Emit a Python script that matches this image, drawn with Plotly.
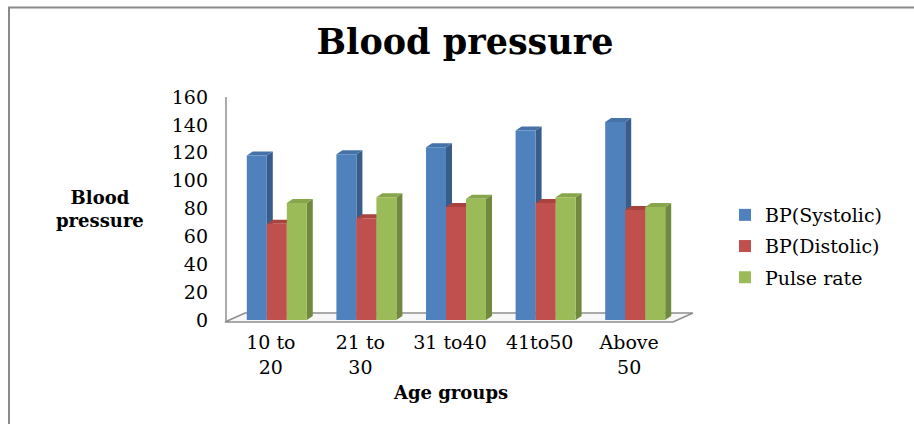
import plotly.graph_objects as go

# Age groups and measured values
age_groups = ["10 to<br>20", "21 to<br>30", "31 to40", "41to50", "Above<br>50"]
series_names = ["BP(Systolic)", "BP(Distolic)", "Pulse rate"]
systolic = [118, 119, 124, 136, 142]
diastolic = [69, 73, 81, 84, 79]
pulse = [84, 88, 87, 88, 81]
y_ticks = [0, 20, 40, 60, 80, 100, 120, 140, 160]

# Front, side and top colours for each series (pseudo-3D columns)
front_colors = ["#4F81BD", "#C0504D", "#9BBB59"]
side_colors = ["#385D8A", "#8C3836", "#71893F"]
top_colors = ["#4672AA", "#A9433F", "#87A64B"]

FONT = "DejaVu Serif"

# Plot area geometry (pixels)
L, W = 232, 448
T, B = 97, 320
H = B - T
FIG_W, FIG_H = 914, 424


def px_x(px):
    return (px - L) / W


def px_y(py):
    return (B - py) / H


cat_px = W / len(age_groups)          # pixels per category
bar_w = 20 / cat_px                    # bar width in category units
depth_dx = 6 / cat_px                  # 3D depth offset (x)
depth_dy = 4 / (H / (y_ticks[-1] - y_ticks[0]))  # 3D depth offset (y units)
offsets = [-bar_w, 0.0, bar_w]
label_shift = -6 / cat_px

fig = go.Figure()
shapes = []

all_series = [systolic, diastolic, pulse]
for k, (name, vals) in enumerate(zip(series_names, all_series)):
    xs = [i + offsets[k] for i in range(len(vals))]
    fig.add_trace(go.Bar(
        x=xs, y=vals, width=bar_w, name=name,
        marker=dict(color=front_colors[k], line=dict(width=0)),
        legendgroup=name, showlegend=True,
    ))
    for xc, v in zip(xs, vals):
        xl, xr = xc - bar_w / 2, xc + bar_w / 2
        # right side face
        shapes.append(dict(
            type="path", xref="x", yref="y", layer="below",
            path=f"M{xr},0 L{xr},{v} L{xr + depth_dx},{v + depth_dy} L{xr + depth_dx},{depth_dy} Z",
            fillcolor=side_colors[k], line=dict(width=0),
        ))
        # top face
        shapes.append(dict(
            type="path", xref="x", yref="y", layer="below",
            path=f"M{xl},{v} L{xr},{v} L{xr + depth_dx},{v + depth_dy} L{xl + depth_dx},{v + depth_dy} Z",
            fillcolor=top_colors[k], line=dict(width=0),
        ))

# Floor of the 3D plot area
floor_pts = [(225, 322), (673, 322), (693, 313), (245, 313)]
floor_path = "M" + " L".join(f"{px_x(a)},{px_y(b)}" for a, b in floor_pts) + " Z"
shapes.insert(0, dict(type="path", xref="paper", yref="paper", layer="below",
                      path=floor_path, fillcolor="#F7F7F7",
                      line=dict(color="#8F8F8F", width=1.5)))
# Vertical axis wall edge
shapes.append(dict(type="line", xref="paper", yref="paper", layer="below",
                   x0=px_x(226), x1=px_x(226), y0=px_y(97), y1=px_y(322),
                   line=dict(color="#8F8F8F", width=1.5)))
# Chart frame (top and left edges)
shapes.append(dict(type="line", xref="paper", yref="paper",
                   x0=px_x(8), x1=px_x(914), y0=px_y(7.5), y1=px_y(7.5),
                   line=dict(color="#8A8A8A", width=2)))
shapes.append(dict(type="line", xref="paper", yref="paper",
                   x0=px_x(9), x1=px_x(9), y0=px_y(7), y1=px_y(424),
                   line=dict(color="#8A8A8A", width=2)))

annotations = [
    dict(text="<b>Blood<br>pressure</b>", xref="paper", yref="paper",
         x=px_x(100), y=px_y(209), xanchor="center", yanchor="middle",
         showarrow=False, font=dict(family=FONT, size=18, color="black")),
    dict(text="<b>Age groups</b>", xref="paper", yref="paper",
         x=px_x(450), y=px_y(392), xanchor="center", yanchor="middle",
         showarrow=False, font=dict(family=FONT, size=18, color="black")),
]

fig.update_layout(
    width=FIG_W, height=FIG_H,
    margin=dict(l=L, r=FIG_W - L - W, t=T, b=FIG_H - B, autoexpand=False),
    paper_bgcolor="white", plot_bgcolor="white",
    barmode="overlay",
    title=dict(text="<b>Blood pressure</b>", x=465 / FIG_W, xanchor="center",
               y=1 - 42 / FIG_H, yanchor="middle",
               font=dict(family=FONT, size=35, color="black")),
    xaxis=dict(range=[-0.5, len(age_groups) - 0.5],
               tickvals=[i + label_shift for i in range(len(age_groups))],
               ticktext=age_groups, showgrid=False, zeroline=False,
               showline=False, ticks="", ticklabelstandoff=9,
               tickfont=dict(family=FONT, size=19, color="black")),
    yaxis=dict(range=[y_ticks[0], y_ticks[-1]], tickvals=y_ticks,
               showgrid=False, zeroline=False, showline=False, ticks="",
               ticklabelstandoff=23,
               tickfont=dict(family=FONT, size=19, color="black")),
    legend=dict(x=px_x(725), y=px_y(196), xanchor="left", yanchor="top",
                font=dict(family=FONT, size=19, color="black"),
                tracegroupgap=3.5, traceorder="grouped",
                bgcolor="rgba(0,0,0,0)"),
    shapes=shapes, annotations=annotations,
)

fig.write_html("out.html")
